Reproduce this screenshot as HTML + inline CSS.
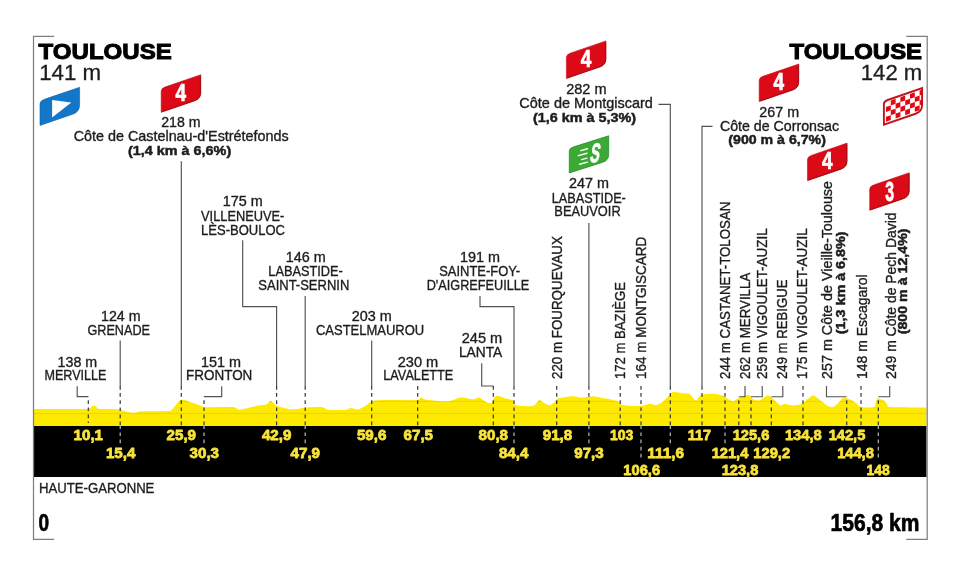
<!DOCTYPE html>
<html lang="fr"><head><meta charset="utf-8"><title>Toulouse - Toulouse</title>
<style>html,body{margin:0;padding:0;background:#fff}svg{display:block}</style></head>
<body>
<svg width="960" height="576" viewBox="0 0 960 576" font-family='"Liberation Sans", sans-serif'>
<rect width="960" height="576" fill="#fff"/>
<path d="M34 426 L34.0 409.0 C41.0 409.0 80.6 409.2 88.0 409.0 C91.0 408.8 90.2 407.8 91.0 407.3 C91.8 406.8 93.4 405.3 94.2 405.3 C95.0 405.3 96.4 407.0 97.0 407.5 C97.6 408.0 97.0 408.8 99.0 409.0 C101.6 409.2 113.3 408.9 116.7 409.2 C120.1 409.5 122.8 410.7 125.0 411.2 C127.2 411.7 131.6 412.9 133.3 413.0 C135.0 413.1 136.7 412.2 138.0 412.0 C139.3 411.8 139.1 411.4 143.0 411.3 C146.9 411.2 164.2 411.2 168.0 411.0 C171.8 410.8 170.9 410.4 172.0 409.5 C173.1 408.6 175.6 405.2 176.7 404.0 C177.8 402.8 179.5 400.4 180.8 400.0 C182.1 399.6 183.8 399.9 186.7 400.8 C189.6 401.7 200.9 405.9 203.3 406.7 C205.0 407.5 203.3 407.3 205.0 407.3 C208.9 407.3 228.9 406.7 233.3 407.0 C237.7 407.3 236.2 409.9 239.2 409.7 C242.2 409.5 253.1 406.5 256.7 405.8 C260.3 405.1 264.9 404.8 266.7 404.2 C268.5 403.6 269.5 400.6 270.8 400.8 C272.1 401.0 274.2 404.7 276.7 405.8 C279.2 406.9 287.2 408.8 290.0 409.2 C292.8 409.6 296.4 409.2 298.3 409.0 C300.2 408.8 302.0 407.8 305.0 407.5 C308.0 407.2 318.7 406.7 321.7 407.0 C324.7 407.3 325.3 409.3 328.3 409.7 C331.3 410.1 342.1 410.2 345.0 410.0 C347.9 409.8 349.1 408.1 350.8 408.0 C352.5 407.9 356.2 409.9 358.3 409.5 C360.4 409.1 364.3 406.2 366.7 405.0 C369.1 403.8 370.2 400.9 376.7 400.3 C383.2 399.7 411.0 400.4 416.7 400.0 C420.8 399.6 419.5 397.5 420.8 397.5 C422.1 397.5 423.1 399.2 426.7 399.7 C430.3 400.2 444.0 401.6 448.3 401.3 C452.6 401.0 456.8 397.8 460.0 397.5 C463.2 397.2 470.8 399.2 473.3 399.2 C475.8 399.2 477.6 397.2 479.2 397.5 C480.8 397.8 484.2 401.0 485.8 401.7 C487.4 402.4 490.6 403.5 491.7 403.0 C492.8 402.5 493.4 398.4 494.2 397.5 C495.0 396.6 496.1 395.7 497.5 395.8 C498.9 395.9 503.1 397.7 505.0 398.3 C506.9 398.9 511.3 399.5 512.5 400.3 C513.7 401.1 513.4 403.5 514.2 404.2 C515.0 404.9 515.8 405.6 518.3 405.8 C520.8 406.0 530.6 406.6 533.3 405.8 C536.0 405.0 537.9 400.4 539.2 400.0 C540.5 399.6 541.9 401.8 543.3 402.5 C544.7 403.2 548.5 405.4 550.0 405.3 C551.5 405.2 553.9 402.6 555.0 401.7 C556.1 400.8 555.9 399.0 558.3 398.3 C560.7 397.6 570.5 396.3 573.3 396.2 C576.1 396.1 578.0 397.4 580.0 397.5 C582.0 397.6 586.6 396.9 588.3 396.7 C590.0 396.5 591.8 396.1 593.3 396.2 C594.8 396.3 597.0 396.9 600.0 397.5 C603.0 398.1 614.0 399.9 616.7 400.8 C619.4 401.7 619.3 403.6 620.8 404.2 C622.3 404.8 625.6 405.6 628.3 405.8 C631.0 406.0 638.9 406.1 641.7 405.8 C644.5 405.5 648.0 403.8 650.0 403.7 C652.0 403.6 655.0 405.3 656.7 405.0 C658.4 404.7 661.6 402.7 663.3 401.3 C665.0 399.9 668.7 395.4 670.0 394.2 C671.3 393.0 671.6 392.1 673.3 392.0 C675.0 391.9 681.1 393.0 683.3 393.3 C685.5 393.6 688.6 393.4 690.0 394.2 C691.4 395.0 693.3 398.4 694.2 399.2 C695.1 400.0 695.8 400.8 696.7 400.3 C697.6 399.8 698.6 395.9 700.8 395.0 C703.0 394.1 710.4 393.6 713.3 393.7 C716.2 393.8 721.3 395.1 723.3 395.8 C725.2 396.5 727.0 398.5 728.3 399.2 C729.6 399.9 732.0 401.4 733.3 401.3 C734.6 401.2 736.3 399.1 738.3 398.3 C740.3 397.5 746.8 394.9 748.8 395.0 C750.7 395.1 751.6 398.5 753.0 399.2 C754.4 399.9 757.3 400.9 759.2 400.4 C761.1 399.9 765.9 396.0 767.5 395.6 C769.1 395.2 770.1 396.5 771.7 397.7 C773.3 398.9 778.2 404.2 780.0 405.0 C781.8 405.8 783.6 403.9 785.2 404.0 C786.8 404.1 790.3 405.4 792.5 405.4 C794.7 405.4 799.9 404.9 801.9 404.0 C803.9 403.1 806.6 399.8 808.1 398.8 C809.6 397.7 811.8 395.5 813.3 395.6 C814.8 395.7 817.7 398.4 819.6 399.8 C821.5 401.2 826.1 405.1 827.9 406.0 C829.7 406.9 831.7 407.4 833.1 407.0 C834.5 406.6 836.9 404.1 838.3 402.9 C839.7 401.7 841.9 398.1 843.5 397.7 C845.1 397.3 849.0 399.0 850.8 399.8 C852.6 400.6 855.7 403.1 857.1 404.0 C858.5 404.9 859.1 406.6 861.2 407.0 C863.4 407.4 871.8 407.8 873.8 407.0 C875.7 406.2 875.8 402.1 876.3 401.0 C876.8 399.9 877.3 398.5 877.9 398.3 C878.5 398.1 880.2 399.1 881.0 399.4 C881.8 399.7 883.4 400.2 884.2 400.8 C885.0 401.4 886.3 403.4 887.0 404.2 C887.7 405.0 887.0 406.6 889.6 407.0 C894.7 407.4 921.7 407.4 926.5 407.5 L926.5 426 Z" fill="#fdea00"/>
<clipPath id="yc"><path d="M34 426 L34.0 409.0 C41.0 409.0 80.6 409.2 88.0 409.0 C91.0 408.8 90.2 407.8 91.0 407.3 C91.8 406.8 93.4 405.3 94.2 405.3 C95.0 405.3 96.4 407.0 97.0 407.5 C97.6 408.0 97.0 408.8 99.0 409.0 C101.6 409.2 113.3 408.9 116.7 409.2 C120.1 409.5 122.8 410.7 125.0 411.2 C127.2 411.7 131.6 412.9 133.3 413.0 C135.0 413.1 136.7 412.2 138.0 412.0 C139.3 411.8 139.1 411.4 143.0 411.3 C146.9 411.2 164.2 411.2 168.0 411.0 C171.8 410.8 170.9 410.4 172.0 409.5 C173.1 408.6 175.6 405.2 176.7 404.0 C177.8 402.8 179.5 400.4 180.8 400.0 C182.1 399.6 183.8 399.9 186.7 400.8 C189.6 401.7 200.9 405.9 203.3 406.7 C205.0 407.5 203.3 407.3 205.0 407.3 C208.9 407.3 228.9 406.7 233.3 407.0 C237.7 407.3 236.2 409.9 239.2 409.7 C242.2 409.5 253.1 406.5 256.7 405.8 C260.3 405.1 264.9 404.8 266.7 404.2 C268.5 403.6 269.5 400.6 270.8 400.8 C272.1 401.0 274.2 404.7 276.7 405.8 C279.2 406.9 287.2 408.8 290.0 409.2 C292.8 409.6 296.4 409.2 298.3 409.0 C300.2 408.8 302.0 407.8 305.0 407.5 C308.0 407.2 318.7 406.7 321.7 407.0 C324.7 407.3 325.3 409.3 328.3 409.7 C331.3 410.1 342.1 410.2 345.0 410.0 C347.9 409.8 349.1 408.1 350.8 408.0 C352.5 407.9 356.2 409.9 358.3 409.5 C360.4 409.1 364.3 406.2 366.7 405.0 C369.1 403.8 370.2 400.9 376.7 400.3 C383.2 399.7 411.0 400.4 416.7 400.0 C420.8 399.6 419.5 397.5 420.8 397.5 C422.1 397.5 423.1 399.2 426.7 399.7 C430.3 400.2 444.0 401.6 448.3 401.3 C452.6 401.0 456.8 397.8 460.0 397.5 C463.2 397.2 470.8 399.2 473.3 399.2 C475.8 399.2 477.6 397.2 479.2 397.5 C480.8 397.8 484.2 401.0 485.8 401.7 C487.4 402.4 490.6 403.5 491.7 403.0 C492.8 402.5 493.4 398.4 494.2 397.5 C495.0 396.6 496.1 395.7 497.5 395.8 C498.9 395.9 503.1 397.7 505.0 398.3 C506.9 398.9 511.3 399.5 512.5 400.3 C513.7 401.1 513.4 403.5 514.2 404.2 C515.0 404.9 515.8 405.6 518.3 405.8 C520.8 406.0 530.6 406.6 533.3 405.8 C536.0 405.0 537.9 400.4 539.2 400.0 C540.5 399.6 541.9 401.8 543.3 402.5 C544.7 403.2 548.5 405.4 550.0 405.3 C551.5 405.2 553.9 402.6 555.0 401.7 C556.1 400.8 555.9 399.0 558.3 398.3 C560.7 397.6 570.5 396.3 573.3 396.2 C576.1 396.1 578.0 397.4 580.0 397.5 C582.0 397.6 586.6 396.9 588.3 396.7 C590.0 396.5 591.8 396.1 593.3 396.2 C594.8 396.3 597.0 396.9 600.0 397.5 C603.0 398.1 614.0 399.9 616.7 400.8 C619.4 401.7 619.3 403.6 620.8 404.2 C622.3 404.8 625.6 405.6 628.3 405.8 C631.0 406.0 638.9 406.1 641.7 405.8 C644.5 405.5 648.0 403.8 650.0 403.7 C652.0 403.6 655.0 405.3 656.7 405.0 C658.4 404.7 661.6 402.7 663.3 401.3 C665.0 399.9 668.7 395.4 670.0 394.2 C671.3 393.0 671.6 392.1 673.3 392.0 C675.0 391.9 681.1 393.0 683.3 393.3 C685.5 393.6 688.6 393.4 690.0 394.2 C691.4 395.0 693.3 398.4 694.2 399.2 C695.1 400.0 695.8 400.8 696.7 400.3 C697.6 399.8 698.6 395.9 700.8 395.0 C703.0 394.1 710.4 393.6 713.3 393.7 C716.2 393.8 721.3 395.1 723.3 395.8 C725.2 396.5 727.0 398.5 728.3 399.2 C729.6 399.9 732.0 401.4 733.3 401.3 C734.6 401.2 736.3 399.1 738.3 398.3 C740.3 397.5 746.8 394.9 748.8 395.0 C750.7 395.1 751.6 398.5 753.0 399.2 C754.4 399.9 757.3 400.9 759.2 400.4 C761.1 399.9 765.9 396.0 767.5 395.6 C769.1 395.2 770.1 396.5 771.7 397.7 C773.3 398.9 778.2 404.2 780.0 405.0 C781.8 405.8 783.6 403.9 785.2 404.0 C786.8 404.1 790.3 405.4 792.5 405.4 C794.7 405.4 799.9 404.9 801.9 404.0 C803.9 403.1 806.6 399.8 808.1 398.8 C809.6 397.7 811.8 395.5 813.3 395.6 C814.8 395.7 817.7 398.4 819.6 399.8 C821.5 401.2 826.1 405.1 827.9 406.0 C829.7 406.9 831.7 407.4 833.1 407.0 C834.5 406.6 836.9 404.1 838.3 402.9 C839.7 401.7 841.9 398.1 843.5 397.7 C845.1 397.3 849.0 399.0 850.8 399.8 C852.6 400.6 855.7 403.1 857.1 404.0 C858.5 404.9 859.1 406.6 861.2 407.0 C863.4 407.4 871.8 407.8 873.8 407.0 C875.7 406.2 875.8 402.1 876.3 401.0 C876.8 399.9 877.3 398.5 877.9 398.3 C878.5 398.1 880.2 399.1 881.0 399.4 C881.8 399.7 883.4 400.2 884.2 400.8 C885.0 401.4 886.3 403.4 887.0 404.2 C887.7 405.0 887.0 406.6 889.6 407.0 C894.7 407.4 921.7 407.4 926.5 407.5 L926.5 426 Z"/></clipPath>
<g clip-path="url(#yc)"><rect x="34" y="412.9" width="892.5" height="1.2" fill="#f4d400"/><rect x="34" y="400.9" width="892.5" height="1.2" fill="#f4d400"/></g>
<rect x="34" y="426" width="892.5" height="51" fill="#000"/>
<path d="M54.2 36.4 L33.5 36.4 L33.5 539.3 L54.2 539.3" fill="none" stroke="#7e7e7e" stroke-width="1.25"/>
<path d="M906.3 36.4 L927.2 36.4 L927.2 539.3 L906.3 539.3" fill="none" stroke="#7e7e7e" stroke-width="1.25"/>
<text x="38.6" y="59.3" font-size="22.9" text-anchor="start" font-weight="bold" textLength="133.2" lengthAdjust="spacingAndGlyphs" fill="#000" stroke="#000" stroke-width="1.0">TOULOUSE</text>
<text x="39.2" y="79.6" font-size="22" text-anchor="start" textLength="62.0" lengthAdjust="spacingAndGlyphs" fill="#1d1d1b" stroke="#1d1d1b" stroke-width="0.3">141 m</text>
<text x="922.1" y="59.3" font-size="22.9" text-anchor="end" font-weight="bold" textLength="132.6" lengthAdjust="spacingAndGlyphs" fill="#000" stroke="#000" stroke-width="1.0">TOULOUSE</text>
<text x="922.3" y="79.6" font-size="22" text-anchor="end" textLength="61.5" lengthAdjust="spacingAndGlyphs" fill="#1d1d1b" stroke="#1d1d1b" stroke-width="0.3">142 m</text>
<text x="39.0" y="492.7" font-size="14.5" text-anchor="start" textLength="115.4" lengthAdjust="spacingAndGlyphs" fill="#1d1d1b" stroke="#1d1d1b" stroke-width="0.35">HAUTE-GARONNE</text>
<text x="38.6" y="530.7" font-size="24.3" text-anchor="start" font-weight="bold" textLength="10.6" lengthAdjust="spacingAndGlyphs" fill="#000" stroke="#000" stroke-width="0.7">0</text>
<text x="919.4" y="530.7" font-size="24.3" text-anchor="end" font-weight="bold" textLength="88.8" lengthAdjust="spacingAndGlyphs" fill="#000" stroke="#000" stroke-width="0.7">156,8 km</text>
<path d="M45.00 99.10 L79.60 87.30 L79.60 104.90 Q79.60 111.90 72.60 114.29 L40.00 125.40 L40.00 103.80 Q40.00 100.80 45.00 99.10 Z" fill="#1277c9" stroke="#0e5fa3" stroke-width="0.6"/>
<path d="M52.1 100 L52.1 117.5 L71.3 102.5 Z" fill="#fff"/>
<path d="M165.70 86.80 L200.80 74.75 L200.80 92.75 Q200.80 98.75 194.80 100.81 L161.20 112.35 L161.20 91.05 Q161.20 88.35 165.70 86.80 Z" fill="#dc0a17" stroke="#c40d17" stroke-width="0.6"/>
<path d="M200.40 76.25 L200.40 92.75 Q200.40 98.45 194.80 100.41 L162.20 111.55" fill="none" stroke="#a30d14" stroke-width="1"/>
<text x="180.9" y="101.0" font-size="23.8" text-anchor="middle" font-weight="bold" textLength="10.6" lengthAdjust="spacingAndGlyphs" fill="#fff" stroke="#fff" stroke-width="0.7">4</text>
<path d="M570.90 52.95 L606.00 40.90 L606.00 58.90 Q606.00 64.90 600.00 66.96 L566.40 78.50 L566.40 57.20 Q566.40 54.50 570.90 52.95 Z" fill="#dc0a17" stroke="#c40d17" stroke-width="0.6"/>
<path d="M605.60 42.40 L605.60 58.90 Q605.60 64.60 600.00 66.56 L567.40 77.70" fill="none" stroke="#a30d14" stroke-width="1"/>
<text x="586.1" y="67.1" font-size="23.8" text-anchor="middle" font-weight="bold" textLength="10.6" lengthAdjust="spacingAndGlyphs" fill="#fff" stroke="#fff" stroke-width="0.7">4</text>
<path d="M763.70 76.05 L798.80 64.00 L798.80 82.00 Q798.80 88.00 792.80 90.06 L759.20 101.60 L759.20 80.30 Q759.20 77.60 763.70 76.05 Z" fill="#dc0a17" stroke="#c40d17" stroke-width="0.6"/>
<path d="M798.40 65.50 L798.40 82.00 Q798.40 87.70 792.80 89.66 L760.20 100.80" fill="none" stroke="#a30d14" stroke-width="1"/>
<text x="778.9" y="90.2" font-size="23.8" text-anchor="middle" font-weight="bold" textLength="10.6" lengthAdjust="spacingAndGlyphs" fill="#fff" stroke="#fff" stroke-width="0.7">4</text>
<path d="M812.00 155.15 L847.10 143.10 L847.10 161.10 Q847.10 167.10 841.10 169.16 L807.50 180.70 L807.50 159.40 Q807.50 156.70 812.00 155.15 Z" fill="#dc0a17" stroke="#c40d17" stroke-width="0.6"/>
<path d="M846.70 144.60 L846.70 161.10 Q846.70 166.80 841.10 168.76 L808.50 179.90" fill="none" stroke="#a30d14" stroke-width="1"/>
<text x="827.2" y="169.3" font-size="23.8" text-anchor="middle" font-weight="bold" textLength="10.6" lengthAdjust="spacingAndGlyphs" fill="#fff" stroke="#fff" stroke-width="0.7">4</text>
<path d="M874.20 184.80 L909.30 172.75 L909.30 190.75 Q909.30 196.75 903.30 198.81 L869.70 210.35 L869.70 189.05 Q869.70 186.35 874.20 184.80 Z" fill="#dc0a17" stroke="#c40d17" stroke-width="0.6"/>
<path d="M908.90 174.25 L908.90 190.75 Q908.90 196.45 903.30 198.41 L870.70 209.55" fill="none" stroke="#a30d14" stroke-width="1"/>
<text x="889.7" y="200.8" font-size="27.6" text-anchor="middle" font-weight="bold" textLength="8.8" lengthAdjust="spacingAndGlyphs" fill="#fff" stroke="#fff" stroke-width="0.8">3</text>
<path d="M573.80 146.87 L608.70 135.80 L608.70 154.40 Q608.70 160.40 602.70 162.30 L569.30 172.90 L569.30 151.00 Q569.30 148.30 573.80 146.87 Z" fill="#3aaa35" stroke="#2b8a2a" stroke-width="0.8"/>
<text transform="translate(593.9 162) skewX(-10)" font-size="26.5" font-weight="bold" text-anchor="middle" fill="#fff" stroke="#fff" stroke-width="0.9" textLength="9.4" lengthAdjust="spacingAndGlyphs">S</text>
<path d="M580.8 150.6 L587.5 148.79" stroke="#fff" stroke-width="1.4" stroke-linecap="round"/>
<path d="M578.3 155.6 L587 153.25" stroke="#fff" stroke-width="1.4" stroke-linecap="round"/>
<path d="M581.7 159.6 L587 158.17" stroke="#fff" stroke-width="1.4" stroke-linecap="round"/>
<path d="M579.6 164.3 L587.5 162.17" stroke="#fff" stroke-width="1.4" stroke-linecap="round"/>
<clipPath id="fc"><path d="M888.40 99.76 L922.10 88.20 L922.10 105.00 Q922.10 111.50 915.60 113.73 L883.90 124.60 L883.90 104.00 Q883.90 101.30 888.40 99.76 Z"/></clipPath>
<path d="M888.40 99.76 L922.10 88.20 L922.10 105.00 Q922.10 111.50 915.60 113.73 L883.90 124.60 L883.90 104.00 Q883.90 101.30 888.40 99.76 Z" fill="#fff"/>
<g clip-path="url(#fc)"><g transform="translate(883.2 100.8) skewY(-18.93)">
<rect x="7.60" y="2.30" width="4.8" height="4.9" fill="#e30613"/>
<rect x="17.20" y="2.30" width="4.8" height="4.9" fill="#e30613"/>
<rect x="26.80" y="2.30" width="4.8" height="4.9" fill="#e30613"/>
<rect x="36.40" y="2.30" width="4.8" height="4.9" fill="#e30613"/>
<rect x="2.80" y="7.20" width="4.8" height="4.9" fill="#e30613"/>
<rect x="12.40" y="7.20" width="4.8" height="4.9" fill="#e30613"/>
<rect x="22.00" y="7.20" width="4.8" height="4.9" fill="#e30613"/>
<rect x="31.60" y="7.20" width="4.8" height="4.9" fill="#e30613"/>
<rect x="7.60" y="12.10" width="4.8" height="4.9" fill="#e30613"/>
<rect x="17.20" y="12.10" width="4.8" height="4.9" fill="#e30613"/>
<rect x="26.80" y="12.10" width="4.8" height="4.9" fill="#e30613"/>
<rect x="36.40" y="12.10" width="4.8" height="4.9" fill="#e30613"/>
<rect x="2.80" y="17.00" width="4.8" height="4.9" fill="#e30613"/>
<rect x="12.40" y="17.00" width="4.8" height="4.9" fill="#e30613"/>
<rect x="22.00" y="17.00" width="4.8" height="4.9" fill="#e30613"/>
<rect x="31.60" y="17.00" width="4.8" height="4.9" fill="#e30613"/>
</g></g>
<path d="M888.40 99.76 L922.10 88.20 L922.10 105.00 Q922.10 111.50 915.60 113.73 L883.90 124.60 L883.90 104.00 Q883.90 101.30 888.40 99.76 Z" fill="none" stroke="#c2141b" stroke-width="1.9"/>
<text x="77.4" y="366.6" font-size="14.5" text-anchor="middle" textLength="39.6" lengthAdjust="spacingAndGlyphs" fill="#1d1d1b" stroke="#1d1d1b" stroke-width="0.35">138 m</text>
<text x="75.5" y="380.0" font-size="14.5" text-anchor="middle" textLength="62.0" lengthAdjust="spacingAndGlyphs" fill="#1d1d1b" stroke="#1d1d1b" stroke-width="0.35">MERVILLE</text>
<path d="M77.2 386.3 L77.2 396.6 L88.3 396.6" fill="none" stroke="#525252" stroke-width="1.15"/>
<path d="M88.3 396.6V396.8 M88.3 400.2V403.9 M88.3 407.4V411.1 M88.3 414.5V418.2 M88.3 421.6V423.0" fill="none" stroke="#363636" stroke-width="1.2"/>
<text x="120.8" y="320.8" font-size="14.5" text-anchor="middle" textLength="39.6" lengthAdjust="spacingAndGlyphs" fill="#1d1d1b" stroke="#1d1d1b" stroke-width="0.35">124 m</text>
<text x="118.7" y="334.8" font-size="14.5" text-anchor="middle" textLength="62.5" lengthAdjust="spacingAndGlyphs" fill="#1d1d1b" stroke="#1d1d1b" stroke-width="0.35">GRENADE</text>
<path d="M120.2 340.6 L120.2 386.0" fill="none" stroke="#525252" stroke-width="1.15"/>
<path d="M120.2 386.0V389.7 M120.2 393.1V396.8 M120.2 400.2V403.9 M120.2 407.4V411.1 M120.2 414.5V418.2 M120.2 421.6V425.3" fill="none" stroke="#363636" stroke-width="1.2"/>
<path d="M120.2 426.0V429.0 M120.2 432.4V436.1 M120.2 439.5V443.2" fill="none" stroke="#b9b9b9" stroke-width="1.2"/>
<text x="180.9" y="126.8" font-size="14.5" text-anchor="middle" textLength="39.3" lengthAdjust="spacingAndGlyphs" fill="#1d1d1b" stroke="#1d1d1b" stroke-width="0.35">218 m</text>
<text x="181.2" y="140.8" font-size="14.5" text-anchor="middle" textLength="215.0" lengthAdjust="spacingAndGlyphs" fill="#1d1d1b" stroke="#1d1d1b" stroke-width="0.35">Côte de Castelnau-d'Estrétefonds</text>
<text x="179.6" y="154.5" font-size="13.6" text-anchor="middle" font-weight="bold" textLength="103.2" lengthAdjust="spacingAndGlyphs" fill="#1d1d1b" stroke="#1d1d1b" stroke-width="0.5">(1,4 km à 6,6%)</text>
<path d="M181.3 161.3 L181.3 386.0" fill="none" stroke="#525252" stroke-width="1.15"/>
<path d="M181.3 386.0V389.7 M181.3 393.1V396.8 M181.3 400.2V403.9 M181.3 407.4V411.1 M181.3 414.5V418.2 M181.3 421.6V425.3" fill="none" stroke="#363636" stroke-width="1.2"/>
<text x="221.0" y="366.6" font-size="14.5" text-anchor="middle" textLength="40.0" lengthAdjust="spacingAndGlyphs" fill="#1d1d1b" stroke="#1d1d1b" stroke-width="0.35">151 m</text>
<text x="219.2" y="380.0" font-size="14.5" text-anchor="middle" textLength="66.3" lengthAdjust="spacingAndGlyphs" fill="#1d1d1b" stroke="#1d1d1b" stroke-width="0.35">FRONTON</text>
<path d="M221.7 386.3 L221.7 396.6 L204.0 396.6" fill="none" stroke="#525252" stroke-width="1.15"/>
<path d="M204.0 396.6V396.8 M204.0 400.2V403.9 M204.0 407.4V411.1 M204.0 414.5V418.2 M204.0 421.6V425.3" fill="none" stroke="#363636" stroke-width="1.2"/>
<path d="M204.0 426.0V429.0 M204.0 432.4V436.1 M204.0 439.5V443.2" fill="none" stroke="#b9b9b9" stroke-width="1.2"/>
<text x="242.7" y="206.2" font-size="14.5" text-anchor="middle" textLength="40.0" lengthAdjust="spacingAndGlyphs" fill="#1d1d1b" stroke="#1d1d1b" stroke-width="0.35">175 m</text>
<text x="242.7" y="220.7" font-size="14.5" text-anchor="middle" textLength="83.3" lengthAdjust="spacingAndGlyphs" fill="#1d1d1b" stroke="#1d1d1b" stroke-width="0.35">VILLENEUVE-</text>
<text x="243.0" y="235.0" font-size="14.5" text-anchor="middle" textLength="84.0" lengthAdjust="spacingAndGlyphs" fill="#1d1d1b" stroke="#1d1d1b" stroke-width="0.35">LÈS-BOULOC</text>
<path d="M242.7 240.3 L242.7 306.6 L276.6 306.6 L276.6 386.0" fill="none" stroke="#525252" stroke-width="1.15"/>
<path d="M276.6 386.0V389.7 M276.6 393.1V396.8 M276.6 400.2V403.9 M276.6 407.4V411.1 M276.6 414.5V418.2 M276.6 421.6V425.3" fill="none" stroke="#363636" stroke-width="1.2"/>
<text x="305.7" y="261.8" font-size="14.5" text-anchor="middle" textLength="40.0" lengthAdjust="spacingAndGlyphs" fill="#1d1d1b" stroke="#1d1d1b" stroke-width="0.35">146 m</text>
<text x="305.5" y="276.0" font-size="14.5" text-anchor="middle" textLength="74.4" lengthAdjust="spacingAndGlyphs" fill="#1d1d1b" stroke="#1d1d1b" stroke-width="0.35">LABASTIDE-</text>
<text x="303.8" y="290.2" font-size="14.5" text-anchor="middle" textLength="91.0" lengthAdjust="spacingAndGlyphs" fill="#1d1d1b" stroke="#1d1d1b" stroke-width="0.35">SAINT-SERNIN</text>
<path d="M305.2 296.0 L305.2 386.0" fill="none" stroke="#525252" stroke-width="1.15"/>
<path d="M305.2 386.0V389.7 M305.2 393.1V396.8 M305.2 400.2V403.9 M305.2 407.4V411.1 M305.2 414.5V418.2 M305.2 421.6V425.3" fill="none" stroke="#363636" stroke-width="1.2"/>
<path d="M305.2 426.0V429.0 M305.2 432.4V436.1 M305.2 439.5V443.2" fill="none" stroke="#b9b9b9" stroke-width="1.2"/>
<text x="371.7" y="320.8" font-size="14.5" text-anchor="middle" textLength="40.0" lengthAdjust="spacingAndGlyphs" fill="#1d1d1b" stroke="#1d1d1b" stroke-width="0.35">203 m</text>
<text x="370.1" y="334.8" font-size="14.5" text-anchor="middle" textLength="108.3" lengthAdjust="spacingAndGlyphs" fill="#1d1d1b" stroke="#1d1d1b" stroke-width="0.35">CASTELMAUROU</text>
<path d="M371.7 340.6 L371.7 386.0" fill="none" stroke="#525252" stroke-width="1.15"/>
<path d="M371.7 386.0V389.7 M371.7 393.1V396.8 M371.7 400.2V403.9 M371.7 407.4V411.1 M371.7 414.5V418.2 M371.7 421.6V425.3" fill="none" stroke="#363636" stroke-width="1.2"/>
<text x="418.0" y="366.6" font-size="14.5" text-anchor="middle" textLength="40.6" lengthAdjust="spacingAndGlyphs" fill="#1d1d1b" stroke="#1d1d1b" stroke-width="0.35">230 m</text>
<text x="418.3" y="380.0" font-size="14.5" text-anchor="middle" textLength="70.0" lengthAdjust="spacingAndGlyphs" fill="#1d1d1b" stroke="#1d1d1b" stroke-width="0.35">LAVALETTE</text>
<path d="M417.7 386.0V389.7 M417.7 393.1V396.8 M417.7 400.2V403.9 M417.7 407.4V411.1 M417.7 414.5V418.2 M417.7 421.6V425.3" fill="none" stroke="#363636" stroke-width="1.2"/>
<text x="482.0" y="343.2" font-size="14.5" text-anchor="middle" textLength="40.6" lengthAdjust="spacingAndGlyphs" fill="#1d1d1b" stroke="#1d1d1b" stroke-width="0.35">245 m</text>
<text x="480.6" y="357.4" font-size="14.5" text-anchor="middle" textLength="43.3" lengthAdjust="spacingAndGlyphs" fill="#1d1d1b" stroke="#1d1d1b" stroke-width="0.35">LANTA</text>
<path d="M481.7 363.3 L481.7 386.0 L493.3 386.0" fill="none" stroke="#525252" stroke-width="1.15"/>
<path d="M493.3 386.0V389.7 M493.3 393.1V396.8 M493.3 400.2V403.9 M493.3 407.4V411.1 M493.3 414.5V418.2 M493.3 421.6V425.3" fill="none" stroke="#363636" stroke-width="1.2"/>
<text x="480.0" y="261.8" font-size="14.5" text-anchor="middle" textLength="40.0" lengthAdjust="spacingAndGlyphs" fill="#1d1d1b" stroke="#1d1d1b" stroke-width="0.35">191 m</text>
<text x="479.6" y="276.0" font-size="14.5" text-anchor="middle" textLength="80.7" lengthAdjust="spacingAndGlyphs" fill="#1d1d1b" stroke="#1d1d1b" stroke-width="0.35">SAINTE-FOY-</text>
<text x="478.0" y="290.2" font-size="14.5" text-anchor="middle" textLength="102.6" lengthAdjust="spacingAndGlyphs" fill="#1d1d1b" stroke="#1d1d1b" stroke-width="0.35">D'AIGREFEUILLE</text>
<path d="M480.0 296.0 L480.0 306.6 L514.0 306.6 L514.0 386.0" fill="none" stroke="#525252" stroke-width="1.15"/>
<path d="M514.0 386.0V389.7 M514.0 393.1V396.8 M514.0 400.2V403.9 M514.0 407.4V411.1 M514.0 414.5V418.2 M514.0 421.6V425.3" fill="none" stroke="#363636" stroke-width="1.2"/>
<path d="M514.0 426.0V429.0 M514.0 432.4V436.1 M514.0 439.5V443.2" fill="none" stroke="#b9b9b9" stroke-width="1.2"/>
<text x="589.0" y="188.2" font-size="14.5" text-anchor="middle" textLength="39.9" lengthAdjust="spacingAndGlyphs" fill="#1d1d1b" stroke="#1d1d1b" stroke-width="0.35">247 m</text>
<text x="588.8" y="202.6" font-size="14.5" text-anchor="middle" textLength="74.1" lengthAdjust="spacingAndGlyphs" fill="#1d1d1b" stroke="#1d1d1b" stroke-width="0.35">LABASTIDE-</text>
<text x="587.5" y="216.4" font-size="14.5" text-anchor="middle" textLength="66.3" lengthAdjust="spacingAndGlyphs" fill="#1d1d1b" stroke="#1d1d1b" stroke-width="0.35">BEAUVOIR</text>
<path d="M588.9 222.9 L588.9 386.0" fill="none" stroke="#525252" stroke-width="1.15"/>
<path d="M588.9 386.0V389.7 M588.9 393.1V396.8 M588.9 400.2V403.9 M588.9 407.4V411.1 M588.9 414.5V418.2 M588.9 421.6V425.3" fill="none" stroke="#363636" stroke-width="1.2"/>
<path d="M588.9 426.0V429.0 M588.9 432.4V436.1 M588.9 439.5V443.2" fill="none" stroke="#b9b9b9" stroke-width="1.2"/>
<text x="586.4" y="94.1" font-size="14.5" text-anchor="middle" textLength="40.4" lengthAdjust="spacingAndGlyphs" fill="#1d1d1b" stroke="#1d1d1b" stroke-width="0.35">282 m</text>
<text x="586.1" y="108.4" font-size="14.5" text-anchor="middle" textLength="133.5" lengthAdjust="spacingAndGlyphs" fill="#1d1d1b" stroke="#1d1d1b" stroke-width="0.35">Côte de Montgiscard</text>
<text x="584.5" y="121.9" font-size="13.6" text-anchor="middle" font-weight="bold" textLength="103.1" lengthAdjust="spacingAndGlyphs" fill="#1d1d1b" stroke="#1d1d1b" stroke-width="0.5">(1,6 km à 5,3%)</text>
<path d="M658.5 104.3 L670.3 104.3 L670.3 386.0" fill="none" stroke="#525252" stroke-width="1.15"/>
<path d="M670.3 386.0V389.7 M670.3 393.1V396.8 M670.3 400.2V403.9 M670.3 407.4V411.1 M670.3 414.5V418.2 M670.3 421.6V425.3" fill="none" stroke="#363636" stroke-width="1.2"/>
<path d="M670.3 426.0V429.0 M670.3 432.4V436.1 M670.3 439.5V443.2" fill="none" stroke="#b9b9b9" stroke-width="1.2"/>
<text x="779.2" y="116.9" font-size="14.5" text-anchor="middle" textLength="39.7" lengthAdjust="spacingAndGlyphs" fill="#1d1d1b" stroke="#1d1d1b" stroke-width="0.35">267 m</text>
<text x="779.5" y="130.9" font-size="14.5" text-anchor="middle" textLength="119.1" lengthAdjust="spacingAndGlyphs" fill="#1d1d1b" stroke="#1d1d1b" stroke-width="0.35">Côte de Corronsac</text>
<text x="777.1" y="144.3" font-size="13.6" text-anchor="middle" font-weight="bold" textLength="97.5" lengthAdjust="spacingAndGlyphs" fill="#1d1d1b" stroke="#1d1d1b" stroke-width="0.5">(900 m à 6,7%)</text>
<path d="M712.5 126.3 L702.0 126.3 L702.0 386.0" fill="none" stroke="#525252" stroke-width="1.15"/>
<path d="M702.0 386.0V389.7 M702.0 393.1V396.8 M702.0 400.2V403.9 M702.0 407.4V411.1 M702.0 414.5V418.2 M702.0 421.6V425.3" fill="none" stroke="#363636" stroke-width="1.2"/>
<text transform="translate(561.7 379.0) rotate(-90)" font-size="14.8" textLength="142.9" lengthAdjust="spacingAndGlyphs" fill="#1d1d1b" stroke="#1d1d1b" stroke-width="0.35">220 m FOURQUEVAUX</text>
<path d="M556.7 386.0V389.7 M556.7 393.1V396.8 M556.7 400.2V403.9 M556.7 407.4V411.1 M556.7 414.5V418.2 M556.7 421.6V425.3" fill="none" stroke="#363636" stroke-width="1.2"/>
<text transform="translate(625.3 379.0) rotate(-90)" font-size="14.8" textLength="97.0" lengthAdjust="spacingAndGlyphs" fill="#1d1d1b" stroke="#1d1d1b" stroke-width="0.35">172 m BAZIÈGE</text>
<path d="M620.2 386.0V389.7 M620.2 393.1V396.8 M620.2 400.2V403.9 M620.2 407.4V411.1 M620.2 414.5V418.2 M620.2 421.6V425.3" fill="none" stroke="#363636" stroke-width="1.2"/>
<text transform="translate(646.1 379.0) rotate(-90)" font-size="14.8" textLength="142.3" lengthAdjust="spacingAndGlyphs" fill="#1d1d1b" stroke="#1d1d1b" stroke-width="0.35">164 m MONTGISCARD</text>
<path d="M641.0 386.0V389.7 M641.0 393.1V396.8 M641.0 400.2V403.9 M641.0 407.4V411.1 M641.0 414.5V418.2 M641.0 421.6V425.3" fill="none" stroke="#363636" stroke-width="1.2"/>
<path d="M641.0 426.0V429.0 M641.0 432.4V436.1 M641.0 439.5V443.2 M641.0 446.7V450.4 M641.0 453.8V457.5" fill="none" stroke="#b9b9b9" stroke-width="1.2"/>
<text transform="translate(729.7 379.0) rotate(-90)" font-size="14.8" textLength="177.4" lengthAdjust="spacingAndGlyphs" fill="#1d1d1b" stroke="#1d1d1b" stroke-width="0.35">244 m CASTANET-TOLOSAN</text>
<path d="M725.0 386.0V389.7 M725.0 393.1V396.8 M725.0 400.2V403.9 M725.0 407.4V411.1 M725.0 414.5V418.2 M725.0 421.6V425.3" fill="none" stroke="#363636" stroke-width="1.2"/>
<path d="M725.0 426.0V429.0 M725.0 432.4V436.1 M725.0 439.5V443.2" fill="none" stroke="#b9b9b9" stroke-width="1.2"/>
<text transform="translate(749.7 379.0) rotate(-90)" font-size="14.8" textLength="106.3" lengthAdjust="spacingAndGlyphs" fill="#1d1d1b" stroke="#1d1d1b" stroke-width="0.35">262 m MERVILLA</text>
<path d="M745.0 385.9 L745.0 396.7 L738.8 396.7" fill="none" stroke="#525252" stroke-width="1.15"/>
<path d="M738.8 400.2V403.9 M738.8 407.4V411.1 M738.8 414.5V418.2 M738.8 421.6V425.3" fill="none" stroke="#363636" stroke-width="1.2"/>
<text transform="translate(766.9 379.0) rotate(-90)" font-size="14.8" textLength="150.6" lengthAdjust="spacingAndGlyphs" fill="#1d1d1b" stroke="#1d1d1b" stroke-width="0.35">259 m VIGOULET-AUZIL</text>
<path d="M762.2 385.9 L762.2 396.7 L751.0 396.7" fill="none" stroke="#525252" stroke-width="1.15"/>
<path d="M751.0 400.2V403.9 M751.0 407.4V411.1 M751.0 414.5V418.2 M751.0 421.6V425.3" fill="none" stroke="#363636" stroke-width="1.2"/>
<text transform="translate(787.3 379.0) rotate(-90)" font-size="14.8" textLength="99.5" lengthAdjust="spacingAndGlyphs" fill="#1d1d1b" stroke="#1d1d1b" stroke-width="0.35">249 m REBIGUE</text>
<path d="M782.8 385.9 L782.8 396.7 L771.3 396.7" fill="none" stroke="#525252" stroke-width="1.15"/>
<path d="M771.3 400.2V403.9 M771.3 407.4V411.1 M771.3 414.5V418.2 M771.3 421.6V425.3" fill="none" stroke="#363636" stroke-width="1.2"/>
<text transform="translate(807.4 379.0) rotate(-90)" font-size="14.8" textLength="150.6" lengthAdjust="spacingAndGlyphs" fill="#1d1d1b" stroke="#1d1d1b" stroke-width="0.35">175 m VIGOULET-AUZIL</text>
<path d="M803.0 386.0V389.7 M803.0 393.1V396.8 M803.0 400.2V403.9 M803.0 407.4V411.1 M803.0 414.5V418.2 M803.0 421.6V425.3" fill="none" stroke="#363636" stroke-width="1.2"/>
<text transform="translate(831.6 379.0) rotate(-90)" font-size="14.8" textLength="198.0" lengthAdjust="spacingAndGlyphs" fill="#1d1d1b" stroke="#1d1d1b" stroke-width="0.35">257 m Côte de Vieille-Toulouse</text>
<text transform="translate(845.4 334.3) rotate(-90)" font-size="13.6" font-weight="bold" textLength="102.9" lengthAdjust="spacingAndGlyphs" fill="#1d1d1b" stroke="#1d1d1b" stroke-width="0.5">(1,3 km à 6,8%)</text>
<path d="M826.5 385.9 L826.5 396.7 L846.6 396.7" fill="none" stroke="#525252" stroke-width="1.15"/>
<path d="M846.7 400.2V403.9 M846.7 407.4V411.1 M846.7 414.5V418.2 M846.7 421.6V425.3" fill="none" stroke="#363636" stroke-width="1.2"/>
<text transform="translate(866.9 379.0) rotate(-90)" font-size="14.8" textLength="104.7" lengthAdjust="spacingAndGlyphs" fill="#1d1d1b" stroke="#1d1d1b" stroke-width="0.35">148 m Escagarol</text>
<path d="M861.0 386.0V389.7 M861.0 393.1V396.8 M861.0 400.2V403.9 M861.0 407.4V411.1 M861.0 414.5V418.2 M861.0 421.6V425.3" fill="none" stroke="#363636" stroke-width="1.2"/>
<text transform="translate(895.8 379.0) rotate(-90)" font-size="14.8" textLength="166.6" lengthAdjust="spacingAndGlyphs" fill="#1d1d1b" stroke="#1d1d1b" stroke-width="0.35">249 m Côte de Pech David</text>
<text transform="translate(907.0 334.3) rotate(-90)" font-size="13.6" font-weight="bold" textLength="105.9" lengthAdjust="spacingAndGlyphs" fill="#1d1d1b" stroke="#1d1d1b" stroke-width="0.5">(800 m à 12,4%)</text>
<path d="M889.7 385.9 L889.7 396.7 L878.4 396.7" fill="none" stroke="#525252" stroke-width="1.15"/>
<path d="M878.3 400.2V403.9 M878.3 407.4V411.1 M878.3 414.5V418.2 M878.3 421.6V425.3" fill="none" stroke="#363636" stroke-width="1.2"/>
<path d="M878.3 426.0V429.0 M878.3 432.4V436.1 M878.3 439.5V443.2 M878.3 446.7V450.4 M878.3 453.8V457.5" fill="none" stroke="#b9b9b9" stroke-width="1.2"/>
<text x="88.3" y="440.2" font-size="15.4" text-anchor="middle" font-weight="bold" textLength="29.5" lengthAdjust="spacingAndGlyphs" fill="#f8e33c" stroke="#f8e33c" stroke-width="0.8" stroke-linejoin="round">10,1</text>
<text x="120.7" y="457.5" font-size="15.4" text-anchor="middle" font-weight="bold" textLength="29.5" lengthAdjust="spacingAndGlyphs" fill="#f8e33c" stroke="#f8e33c" stroke-width="0.8" stroke-linejoin="round">15,4</text>
<text x="181.3" y="440.2" font-size="15.4" text-anchor="middle" font-weight="bold" textLength="29.5" lengthAdjust="spacingAndGlyphs" fill="#f8e33c" stroke="#f8e33c" stroke-width="0.8" stroke-linejoin="round">25,9</text>
<text x="204.3" y="457.5" font-size="15.4" text-anchor="middle" font-weight="bold" textLength="29.5" lengthAdjust="spacingAndGlyphs" fill="#f8e33c" stroke="#f8e33c" stroke-width="0.8" stroke-linejoin="round">30,3</text>
<text x="276.7" y="440.2" font-size="15.4" text-anchor="middle" font-weight="bold" textLength="29.5" lengthAdjust="spacingAndGlyphs" fill="#f8e33c" stroke="#f8e33c" stroke-width="0.8" stroke-linejoin="round">42,9</text>
<text x="305.3" y="457.5" font-size="15.4" text-anchor="middle" font-weight="bold" textLength="29.5" lengthAdjust="spacingAndGlyphs" fill="#f8e33c" stroke="#f8e33c" stroke-width="0.8" stroke-linejoin="round">47,9</text>
<text x="371.7" y="440.2" font-size="15.4" text-anchor="middle" font-weight="bold" textLength="29.5" lengthAdjust="spacingAndGlyphs" fill="#f8e33c" stroke="#f8e33c" stroke-width="0.8" stroke-linejoin="round">59,6</text>
<text x="418.3" y="440.2" font-size="15.4" text-anchor="middle" font-weight="bold" textLength="29.5" lengthAdjust="spacingAndGlyphs" fill="#f8e33c" stroke="#f8e33c" stroke-width="0.8" stroke-linejoin="round">67,5</text>
<text x="493.3" y="440.2" font-size="15.4" text-anchor="middle" font-weight="bold" textLength="29.5" lengthAdjust="spacingAndGlyphs" fill="#f8e33c" stroke="#f8e33c" stroke-width="0.8" stroke-linejoin="round">80,8</text>
<text x="513.7" y="457.5" font-size="15.4" text-anchor="middle" font-weight="bold" textLength="29.5" lengthAdjust="spacingAndGlyphs" fill="#f8e33c" stroke="#f8e33c" stroke-width="0.8" stroke-linejoin="round">84,4</text>
<text x="557.5" y="440.2" font-size="15.4" text-anchor="middle" font-weight="bold" textLength="29.5" lengthAdjust="spacingAndGlyphs" fill="#f8e33c" stroke="#f8e33c" stroke-width="0.8" stroke-linejoin="round">91,8</text>
<text x="589.0" y="457.5" font-size="15.4" text-anchor="middle" font-weight="bold" textLength="29.5" lengthAdjust="spacingAndGlyphs" fill="#f8e33c" stroke="#f8e33c" stroke-width="0.8" stroke-linejoin="round">97,3</text>
<text x="621.7" y="440.2" font-size="15.4" text-anchor="middle" font-weight="bold" textLength="23.2" lengthAdjust="spacingAndGlyphs" fill="#f8e33c" stroke="#f8e33c" stroke-width="0.8" stroke-linejoin="round">103</text>
<text x="641.7" y="474.8" font-size="15.4" text-anchor="middle" font-weight="bold" textLength="36.7" lengthAdjust="spacingAndGlyphs" fill="#f8e33c" stroke="#f8e33c" stroke-width="0.8" stroke-linejoin="round">106,6</text>
<text x="665.7" y="457.5" font-size="15.4" text-anchor="middle" font-weight="bold" textLength="36.7" lengthAdjust="spacingAndGlyphs" fill="#f8e33c" stroke="#f8e33c" stroke-width="0.8" stroke-linejoin="round">111,6</text>
<text x="699.3" y="440.2" font-size="15.4" text-anchor="middle" font-weight="bold" textLength="23.2" lengthAdjust="spacingAndGlyphs" fill="#f8e33c" stroke="#f8e33c" stroke-width="0.8" stroke-linejoin="round">117</text>
<text x="730.0" y="457.5" font-size="15.4" text-anchor="middle" font-weight="bold" textLength="36.7" lengthAdjust="spacingAndGlyphs" fill="#f8e33c" stroke="#f8e33c" stroke-width="0.8" stroke-linejoin="round">121,4</text>
<text x="740.0" y="474.8" font-size="15.4" text-anchor="middle" font-weight="bold" textLength="36.7" lengthAdjust="spacingAndGlyphs" fill="#f8e33c" stroke="#f8e33c" stroke-width="0.8" stroke-linejoin="round">123,8</text>
<text x="751.0" y="440.2" font-size="15.4" text-anchor="middle" font-weight="bold" textLength="36.7" lengthAdjust="spacingAndGlyphs" fill="#f8e33c" stroke="#f8e33c" stroke-width="0.8" stroke-linejoin="round">125,6</text>
<text x="771.7" y="457.5" font-size="15.4" text-anchor="middle" font-weight="bold" textLength="36.7" lengthAdjust="spacingAndGlyphs" fill="#f8e33c" stroke="#f8e33c" stroke-width="0.8" stroke-linejoin="round">129,2</text>
<text x="803.3" y="440.2" font-size="15.4" text-anchor="middle" font-weight="bold" textLength="36.7" lengthAdjust="spacingAndGlyphs" fill="#f8e33c" stroke="#f8e33c" stroke-width="0.8" stroke-linejoin="round">134,8</text>
<text x="847.0" y="440.2" font-size="15.4" text-anchor="middle" font-weight="bold" textLength="36.7" lengthAdjust="spacingAndGlyphs" fill="#f8e33c" stroke="#f8e33c" stroke-width="0.8" stroke-linejoin="round">142,5</text>
<text x="855.5" y="457.5" font-size="15.4" text-anchor="middle" font-weight="bold" textLength="36.7" lengthAdjust="spacingAndGlyphs" fill="#f8e33c" stroke="#f8e33c" stroke-width="0.8" stroke-linejoin="round">144,8</text>
<text x="878.2" y="474.8" font-size="15.4" text-anchor="middle" font-weight="bold" textLength="23.2" lengthAdjust="spacingAndGlyphs" fill="#f8e33c" stroke="#f8e33c" stroke-width="0.8" stroke-linejoin="round">148</text>
</svg>
</body></html>
